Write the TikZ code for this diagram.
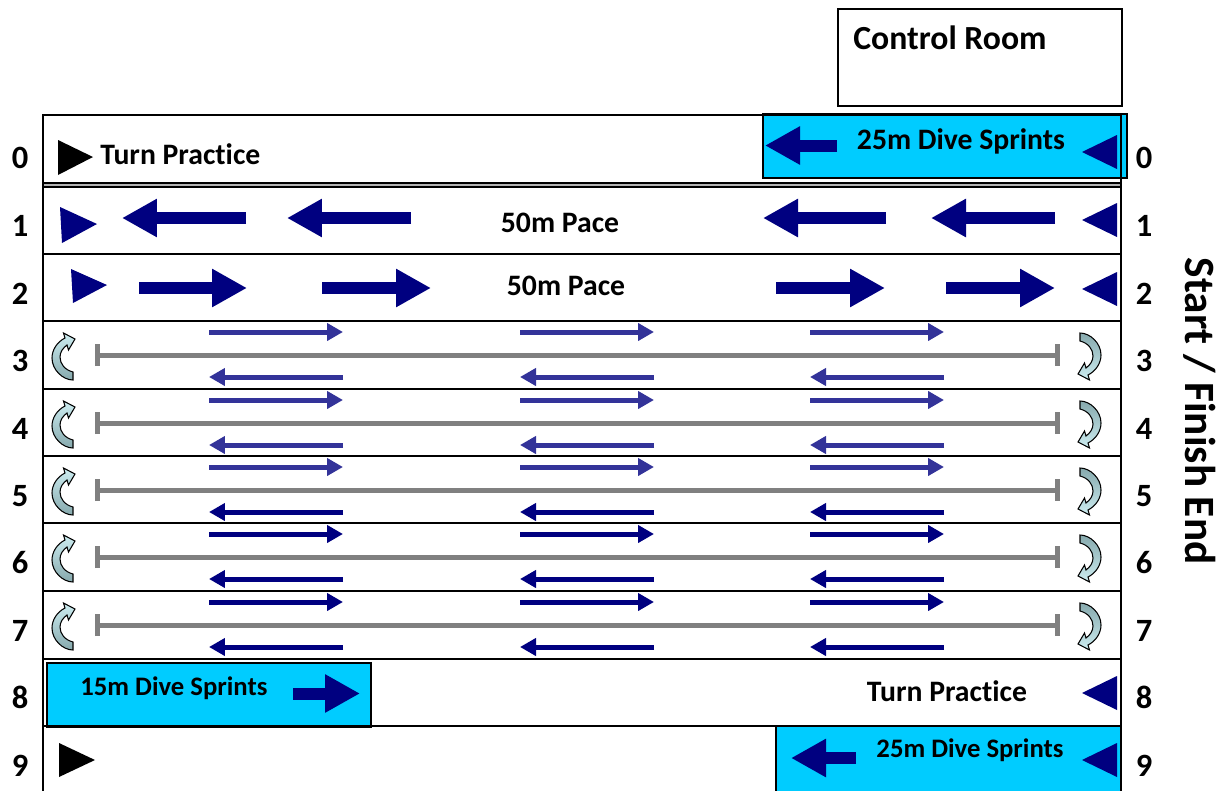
\documentclass[tikz,border=0pt]{standalone}
\usepackage{fontspec}
\setmainfont{Carlito}[Ligatures={NoCommon,NoRare,NoDiscretionary}]
\usetikzlibrary{arrows.meta}

\definecolor{poolcyan}{HTML}{00CCFF}
\definecolor{laneblue}{HTML}{000080}
\definecolor{lanemid}{HTML}{333399}
\definecolor{ropegray}{HTML}{808080}
\definecolor{turnlight}{HTML}{CDEDF1}
\definecolor{turndark}{HTML}{86A9AD}

\tikzset{
  lanenum/.style={font=\fontsize{18.5}{20}\selectfont\bfseries, inner sep=0pt, anchor=base},
  lanetext/.style={font=\fontsize{16.9}{19}\selectfont\bfseries, inner sep=0pt, anchor=base},
  smalltext/.style={lanetext, font=\fontsize{15.2}{17}\selectfont\bfseries},
  fatarrow/.style={laneblue, line width=0.24cm, -{Triangle[length=0.7cm,width=0.72cm]}},
  thinarrow/.style={line width=0.1cm, -{Triangle[length=0.32cm,width=0.34cm]}},
  rope/.style={ropegray, line width=0.1cm, {Bar[width=0.44cm]}-{Bar[width=0.44cm]}},
  sprintbox/.style={fill=poolcyan, draw=black, line width=1.1pt},
  pics/turnicon/.style args={#1/#2}{code={
    \path[draw=black, line width=0.6pt, top color=#1, bottom color=#2]
      (10,22) -- (10,14) .. controls (2,12) and (-3,6) .. (-3,-1)
      .. controls (-3,-6) and (0,-10) .. (4,-13) -- (5.5,-8) -- (12,-19)
      -- (0.5,-25) -- (2,-20) .. controls (-6,-16) and (-11,-8) .. (-11,0)
      .. controls (-11,12) and (0,22) .. (10,22) -- cycle;
  }},
}

\begin{document}
\begin{tikzpicture}[x=0.02cm, y=-0.02cm]
\useasboundingbox (0,0) rectangle (1231,791);

% control room
\draw[line width=1.1pt] (838,9) rectangle (1122,106);
\node[font=\fontsize{19.2}{21}\selectfont\bfseries, inner sep=0pt, anchor=base west] (ctrl) at (853,50) {Control Room};

% sprint boxes
\draw[sprintbox] (763,114) rectangle (1127,178);
\fill[poolcyan] (776,726) rectangle (1122,791);
\draw[line width=1.1pt] (776,791) |- (1122,726);
\draw[sprintbox] (47,663) rectangle (371,727);

% pool
\fill[ropegray!60] (43,183) rectangle (1121,187);
\draw[line width=1.1pt] (43,791) -- (43,115) -- (1121,115) -- (1121,791);
\foreach \y in {183,187,254,321,389,456,523,591,659,726}
  \draw[line width=1.1pt] (43,\y) -- (1121,\y);

% lane numbers
\foreach \n/\y in {0/168,1/236,2/304,3/371,4/439,5/506,6/573,7/641,8/708,9/776} {
  \node[lanenum] (left\n) at (20,\y) {\n};
  \node[lanenum] (right\n) at (1144,\y) {\n};
}
\node[font=\fontsize{24.6}{28}\selectfont\bfseries, rotate=-90, inner sep=0pt] (endlabel) at (1200,411) {Start / Finish End};

% lane texts
\node[lanetext, anchor=base west] (turn0) at (100,164) {Turn Practice};
\node[lanetext] (dive0) at (961,149) {25m Dive Sprints};
\node[lanetext] (pace1) at (560,232) {50m Pace};
\node[lanetext] (pace2) at (566,295) {50m Pace};
\node[smalltext, anchor=base west] (dive8) at (80,695) {15m Dive Sprints};
\node[lanetext] (turn8) at (947,701) {Turn Practice};
\node[smalltext] (dive9) at (970,757) {25m Dive Sprints};

% start markers
\fill (58,140) -- (93,157) -- (58,175) -- cycle;
\fill (59,743) -- (95,760) -- (59,777) -- cycle;
\fill[laneblue] (60,207) -- (97,224) -- (62,243) -- cycle;
\fill[laneblue] (71,269) -- (107,285) -- (73,303) -- cycle;
\foreach \y in {152,220,289,693,760}
  \fill[laneblue] (1117,\y-17) -- (1082,\y) -- (1117,\y+17) -- cycle;

% swim arrows
\draw[fatarrow] (837,145.5) -- (765,145.5);
\foreach \a/\b in {246/122, 411/287, 886/763, 1055/931}
  \draw[fatarrow] (\a,218) -- (\b,218);
\foreach \a/\b in {139/247, 322/431, 776/885, 946/1055}
  \draw[fatarrow] (\a,288) -- (\b,288);
\draw[fatarrow] (293,693.5) -- (360,693.5);
\draw[fatarrow] (856,758) -- (791,758);

% lanes 3 to 7
\foreach \t/\cu/\cl in {321/lanemid/lanemid, 389/lanemid/lanemid, 456/lanemid/laneblue, 523/laneblue/laneblue, 591/laneblue/laneblue} {
  \draw[rope] (95,\t+34) -- (1060,\t+34);
  \foreach \x in {209,520,810} {
    \draw[thinarrow, \cu] (\x,\t+11) -- (\x+134,\t+11);
    \draw[thinarrow, \cl] (\x+134,\t+56) -- (\x,\t+56);
  }
  \pic at (63,\t+37) {turnicon=turnlight/turndark};
  \pic[rotate=180] at (1090,\t+34) {turnicon=turndark/turnlight};
}
\end{tikzpicture}
\end{document}
